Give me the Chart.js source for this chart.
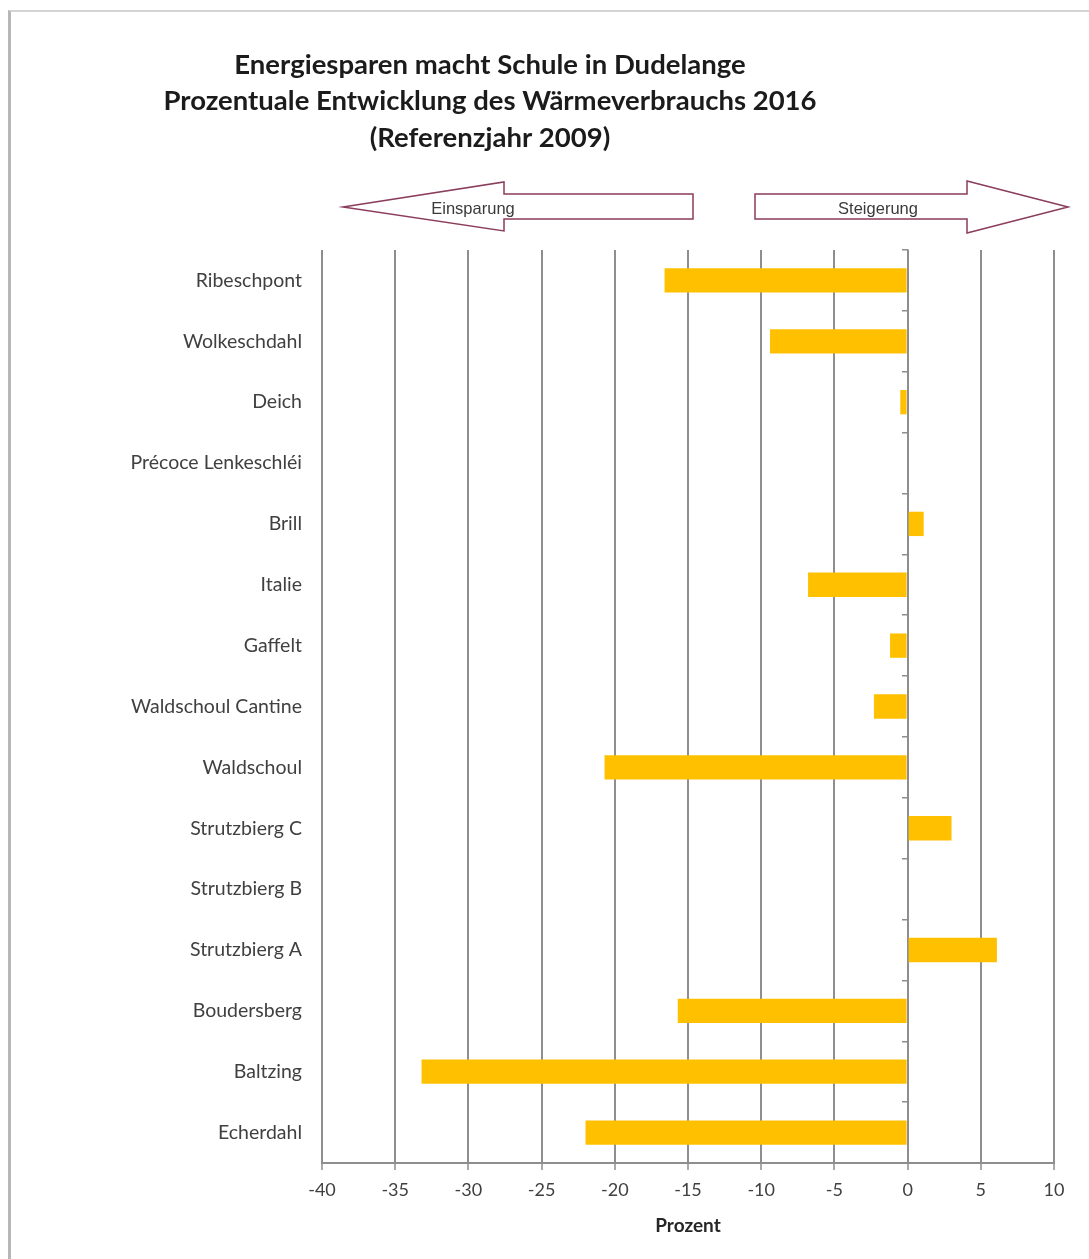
<!DOCTYPE html>
<html>
<head>
<meta charset="utf-8">
<script src="https://cdn.jsdelivr.net/npm/chart.js@4/dist/chart.umd.min.js"></script>
<style>
  html, body { margin: 0; padding: 0; background: #ffffff; }
  #wrap { position: relative; width: 1089px; height: 1259px; overflow: hidden; }
  #frame {
    position: absolute; left: 8px; top: 10px; right: -10px; bottom: -10px;
    border-left: 3px solid #b7b7b7; border-top: 2px solid #d4d4d4;
    pointer-events: none;
  }
</style>
</head>
<body>
<div id="wrap">
  <canvas id="chart" width="1089" height="1259"></canvas>
  <div id="frame"></div>
</div>
<script>
// Heating consumption change 2016 vs. reference year 2009, per school building
const titleLines = [
  'Energiesparen macht Schule in Dudelange',
  'Prozentuale Entwicklung des Wärmeverbrauchs 2016',
  '(Referenzjahr 2009)'
];
const schools = [
  'Ribeschpont', 'Wolkeschdahl', 'Deich', 'Précoce Lenkeschléi', 'Brill',
  'Italie', 'Gaffelt', 'Waldschoul Cantine', 'Waldschoul', 'Strutzbierg C',
  'Strutzbierg B', 'Strutzbierg A', 'Boudersberg', 'Baltzing', 'Echerdahl'
];
const changePercent = [
  -16.6, -9.4, -0.5, 0, 1.1,
  -6.8, -1.2, -2.3, -20.7, 3.0,
  0, 6.1, -15.7, -33.2, -22.0
];
const axisMin = -40;
const axisMax = 10;
const axisStep = 5;
const axisTitle = 'Prozent';
const arrowLabels = ['Einsparung', 'Steigerung'];

const gridGrey = '#8e8e8e';
const textGrey = '#404040';

// Title block and the two direction arrows above the plot
const headerPlugin = {
  id: 'header',
  afterDraw(chart) {
    const ctx = chart.ctx;
    ctx.save();
    ctx.fillStyle = '#1b1b1b';
    ctx.font = 'bold 27.5px Lato';
    ctx.textAlign = 'center';
    ctx.textBaseline = 'middle';
    titleLines.forEach((line, i) => ctx.fillText(line, 490, 65 + i * 36.5));

    const drawArrow = (pts) => {
      ctx.beginPath();
      ctx.moveTo(pts[0][0], pts[0][1]);
      for (let i = 1; i < pts.length; i++) ctx.lineTo(pts[i][0], pts[i][1]);
      ctx.closePath();
      ctx.fillStyle = '#ffffff';
      ctx.fill();
      ctx.lineWidth = 1.5;
      ctx.strokeStyle = '#8a3d5c';
      ctx.stroke();
    };
    // left-pointing arrow
    drawArrow([[343, 207], [504, 182], [504, 194], [693, 194], [693, 219], [504, 219], [504, 231]]);
    // right-pointing arrow
    drawArrow([[1068, 207], [967, 181], [967, 194], [755, 194], [755, 219], [967, 219], [967, 233]]);

    ctx.fillStyle = '#3a3a3a';
    ctx.font = '16.5px "Liberation Sans"';
    ctx.fillText(arrowLabels[0], 473, 209);
    ctx.fillText(arrowLabels[1], 878, 209);
    ctx.restore();
  }
};

new Chart(document.getElementById('chart'), {
  type: 'bar',
  data: {
    labels: schools,
    datasets: [{
      data: changePercent,
      backgroundColor: '#ffc000',
      borderWidth: 0,
      categoryPercentage: 0.4,
      barPercentage: 1.0,
      yAxisID: 'y'
    }]
  },
  options: {
    indexAxis: 'y',
    responsive: false,
    animation: false,
    layout: { padding: { top: 250, right: 35, left: 0, bottom: 0 } },
    plugins: {
      legend: { display: false },
      tooltip: { enabled: false },
      title: { display: false }
    },
    scales: {
      x: {
        type: 'linear',
        min: axisMin,
        max: axisMax,
        ticks: {
          stepSize: axisStep,
          color: textGrey,
          font: { family: 'Lato', size: 18 },
          padding: 9
        },
        grid: { color: gridGrey, lineWidth: 2, tickLength: 7, tickColor: gridGrey, tickWidth: 1.5 },
        border: { display: true, color: gridGrey, width: 2 },
        title: {
          display: true,
          text: axisTitle,
          color: '#262626',
          font: { family: 'Lato', size: 19, weight: 'bold' },
          padding: { top: 4, bottom: 22 }
        },
        afterFit(scale) { scale.height = 96; }
      },
      y: {
        type: 'category',
        position: 'left',
        offset: true,
        grid: { display: false, drawTicks: false },
        border: { display: false },
        ticks: { color: textGrey, font: { family: 'Lato', size: 19.5 }, padding: 20 },
        afterFit(scale) { scale.width = 322; }
      },
      yZero: {
        type: 'category',
        axis: 'y',
        position: { x: 0 },
        offset: true,
        z: 1,
        grid: { offset: true, drawOnChartArea: false, tickLength: 5, color: gridGrey, lineWidth: 1.5 },
        border: { display: true, color: gridGrey, width: 1.5 },
        ticks: { display: false }
      }
    }
  },
  plugins: [headerPlugin]
});
</script>
</body>
</html>
